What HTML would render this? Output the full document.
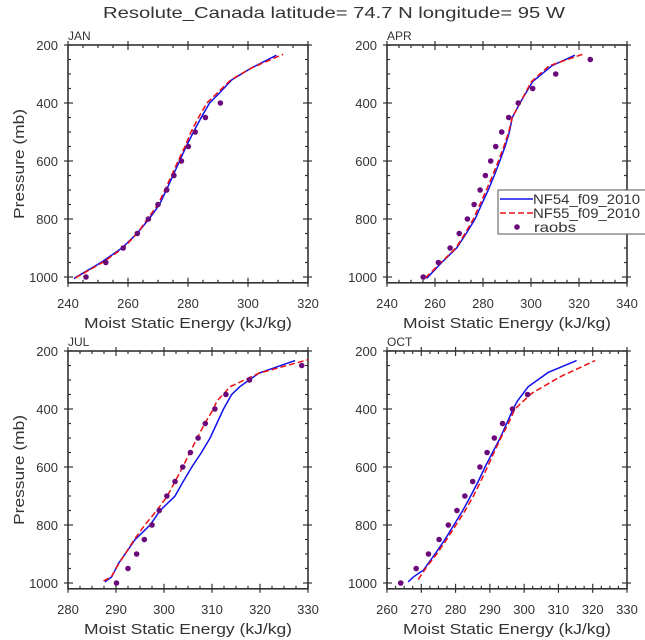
<!DOCTYPE html>
<html><head><meta charset="utf-8">
<style>
body{margin:0;background:#fff;}
svg{display:block;font-family:"Liberation Sans",sans-serif;}
text{fill:#333;}
</style></head>
<body>
<svg id="chart" width="645" height="640" xmlns="http://www.w3.org/2000/svg">
<text x="103" y="18" textLength="462" lengthAdjust="spacingAndGlyphs" font-size="16">Resolute_Canada  latitude= 74.7 N longitude= 95 W</text>
</svg>
<script>
// JAN
const janP = [1005,950,900,850,800,750,700,650,600,550,500,450,400,375,320,280,235];
const janNF54 = [242,251,258,263,267,270.5,272.8,275,277.2,279.4,281.8,284.4,287.2,289.6,294.6,301,309.5];
const janPr = [1003,950,900,850,800,750,700,650,600,550,500,450,400,375,320,280,232];
const janNF55 = [242.5,251.5,258.5,263,266.5,270,272.3,274.5,276.7,279,281,283.5,286.3,288.8,294.3,301,311.7];
const obsP = [1000,950,900,850,800,750,700,650,600,550,500,450,400,350,300,250];
const janObs = [246,252.6,258.4,263.1,266.8,270,272.9,275.3,277.8,280.1,282.4,285.8,290.8];
// APR
const aprP = [1005,950,900,850,800,750,700,650,600,550,500,450,400,326,272,235];
const aprNF54 = [256.5,262.8,269,273,276.7,279.4,282.2,284.7,287,289.2,291,292.2,295.4,300.7,308.6,318.3];
const aprPr = [1003,950,900,850,800,750,700,650,600,550,500,450,400,326,272,232];
const aprNF55 = [256,262.5,268.7,272.5,276,278.7,281.4,284,286.4,288.7,290.7,292.2,295.4,300.2,307.5,321.5];
const aprObs = [255.1,261.4,266.3,270.1,273.5,276.3,278.8,281,283.2,285.3,287.8,290.7,294.7,300.7,310.3,324.7];
// JUL
const julP = [996,979,933,900,850,800,750,700,650,600,550,500,450,400,350,323,277,233];
const julNF54 = [287.7,289.1,290.5,291.9,294,297.1,299.2,302.3,304,305.8,307.8,309.6,311,312.4,314.1,315.8,319.7,327.3];
const julPr = [993,979,933,900,850,800,750,700,650,600,550,500,450,400,373,323,277,230];
const julNF55 = [287.4,289,290.6,291.9,293.8,296,298.5,300.7,302.3,303.9,305.4,306.9,308.5,310.3,311,313.8,319.7,330];
const julObs = [290.1,292.5,294.3,295.9,297.5,299,300.6,302.3,303.9,305.5,307.1,308.6,310.6,312.9,317.8,328.7];
// OCT
const octP = [996,979,956,900,850,800,750,700,650,600,550,500,450,400,373,323,274,233];
const octNF54 = [266.2,267.7,270.6,274,276.9,279.5,282.1,284.4,286.6,288.6,290.8,293,294.9,296.8,298,301.2,307,315.3];
const octPr = [988,944,900,850,800,750,700,650,600,550,500,450,400,346,289,233];
const octNF55 = [269.1,271.6,274.5,277.4,280.1,282.8,285.2,287.3,289.3,291.2,293.2,295.4,297.3,302.2,310.5,320.7];
const octObs = [264,268.5,272.1,275.2,277.9,280.4,282.7,285,287.1,289.2,291.3,293.7,296.6,301];

const NS='http://www.w3.org/2000/svg';
const svg=document.getElementById('chart');
function mk(tag,attrs,parent){const e=document.createElementNS(NS,tag);for(const k in attrs)e.setAttribute(k,attrs[k]);(parent||svg).appendChild(e);return e;}

const panels=[
 {id:'jan',title:'JAN',L:68,R:308,T:45,x0:240,x1:320,xmaj:20,xmin:5,b:janNF54,bp:janP,r:janNF55,rp:janPr,o:janObs},
 {id:'apr',title:'APR',L:387,R:627,T:45,x0:240,x1:340,xmaj:20,xmin:5,b:aprNF54,bp:aprP,r:aprNF55,rp:aprPr,o:aprObs},
 {id:'jul',title:'JUL',L:68,R:308,T:351,x0:280,x1:330,xmaj:10,xmin:2.5,b:julNF54,bp:julP,r:julNF55,rp:julPr,o:julObs},
 {id:'oct',title:'OCT',L:387,R:627,T:351,x0:260,x1:330,xmaj:10,xmin:2.5,b:octNF54,bp:octP,r:octNF55,rp:octPr,o:octObs}
];
const pxPerMb=0.29;
panels.forEach(pn=>{
 const g=mk('g',{});
 
 
 const B=pn.T+820*pxPerMb;
 const xs=v=>pn.L+(v-pn.x0)/(pn.x1-pn.x0)*(pn.R-pn.L);
 const ys=p=>pn.T+(p-200)*pxPerMb;
 for(let v=pn.x0;v<=pn.x1+1e-6;v+=pn.xmin){
  const maj=Math.abs((v-pn.x0)/pn.xmaj-Math.round((v-pn.x0)/pn.xmaj))<1e-6;
  const a=maj?4:0,i=maj?5:3,x=xs(v);
  mk('line',{x1:x,x2:x,y1:B+a,y2:B-i,stroke:'#333','stroke-width':1.2},g);
  mk('line',{x1:x,x2:x,y1:pn.T-a,y2:pn.T+i,stroke:'#333','stroke-width':1.2},g);
  if(maj){const t=mk('text',{x:x,y:B+25,'text-anchor':'middle','font-size':13},g);t.textContent=v;
   }
 }
 for(let p=200;p<=1000;p+=50){
  const maj=p%200===0,a=maj?4:0,i=maj?5:3,y=ys(p);
  mk('line',{x1:pn.L-a,x2:pn.L+i,y1:y,y2:y,stroke:'#333','stroke-width':1.2},g);
  mk('line',{x1:pn.R+a,x2:pn.R-i,y1:y,y2:y,stroke:'#333','stroke-width':1.2},g);
  if(maj){const t=mk('text',{x:pn.L-10,y:y+5,'text-anchor':'end','font-size':13},g);t.textContent=p;
   }
 }
 mk('rect',{x:pn.L,y:pn.T,width:pn.R-pn.L,height:B-pn.T,fill:'none',stroke:'#333','stroke-width':1.6},g);
 const tt=mk('text',{x:pn.L,y:pn.T-5,'font-size':12},g);tt.textContent=pn.title;
 
 const xl=mk('text',{x:(pn.L+pn.R)/2-208/2+0,y:B+45,'font-size':15,textLength:208,lengthAdjust:'spacingAndGlyphs'},g);xl.textContent='Moist Static Energy (kJ/kg)';
 
 if(pn.L<100){const yl=mk('text',{x:-55,y:0,'font-size':15,textLength:110,lengthAdjust:'spacingAndGlyphs',transform:`translate(24,${(pn.T+B)/2}) rotate(-90)`},g);yl.textContent='Pressure (mb)';
  }
 const bl=mk('polyline',{points:pn.b.map((v,k)=>xs(v)+','+ys(pn.bp[k])).join(' '),fill:'none',stroke:'#1010ee','stroke-width':1.5},g);
 
 const rl=mk('polyline',{points:pn.r.map((v,k)=>xs(v)+','+ys(pn.rp[k])).join(' '),fill:'none',stroke:'#ee1010','stroke-width':1.5,'stroke-dasharray':'6,3'},g);
 
 pn.o.forEach((v,k)=>{const c=mk('circle',{cx:xs(v),cy:ys(obsP[k]),r:2.8,fill:'#6a0a7a'},g);
  });
});
const lg=mk('g',{});


mk('rect',{x:498,y:190,width:160,height:44,fill:'#fff',stroke:'#555','stroke-width':1},lg);
mk('line',{x1:500,x2:533,y1:199,y2:199,stroke:'#1010ee','stroke-width':1.5},lg);
mk('line',{x1:500,x2:533,y1:213,y2:213,stroke:'#ee1010','stroke-width':1.5,'stroke-dasharray':'6,3'},lg);
mk('circle',{cx:517,cy:227,r:2.8,fill:'#6a0a7a'},lg);
[['NF54_f09_2010',204,107],['NF55_f09_2010',218,107],['raobs',232,42]].forEach(d=>{
 const t=mk('text',{x:d[0]==='raobs'?534:533,y:d[1],'font-size':14,textLength:d[2],lengthAdjust:'spacingAndGlyphs'},lg);t.textContent=d[0];
 
});
</script>
</body></html>
